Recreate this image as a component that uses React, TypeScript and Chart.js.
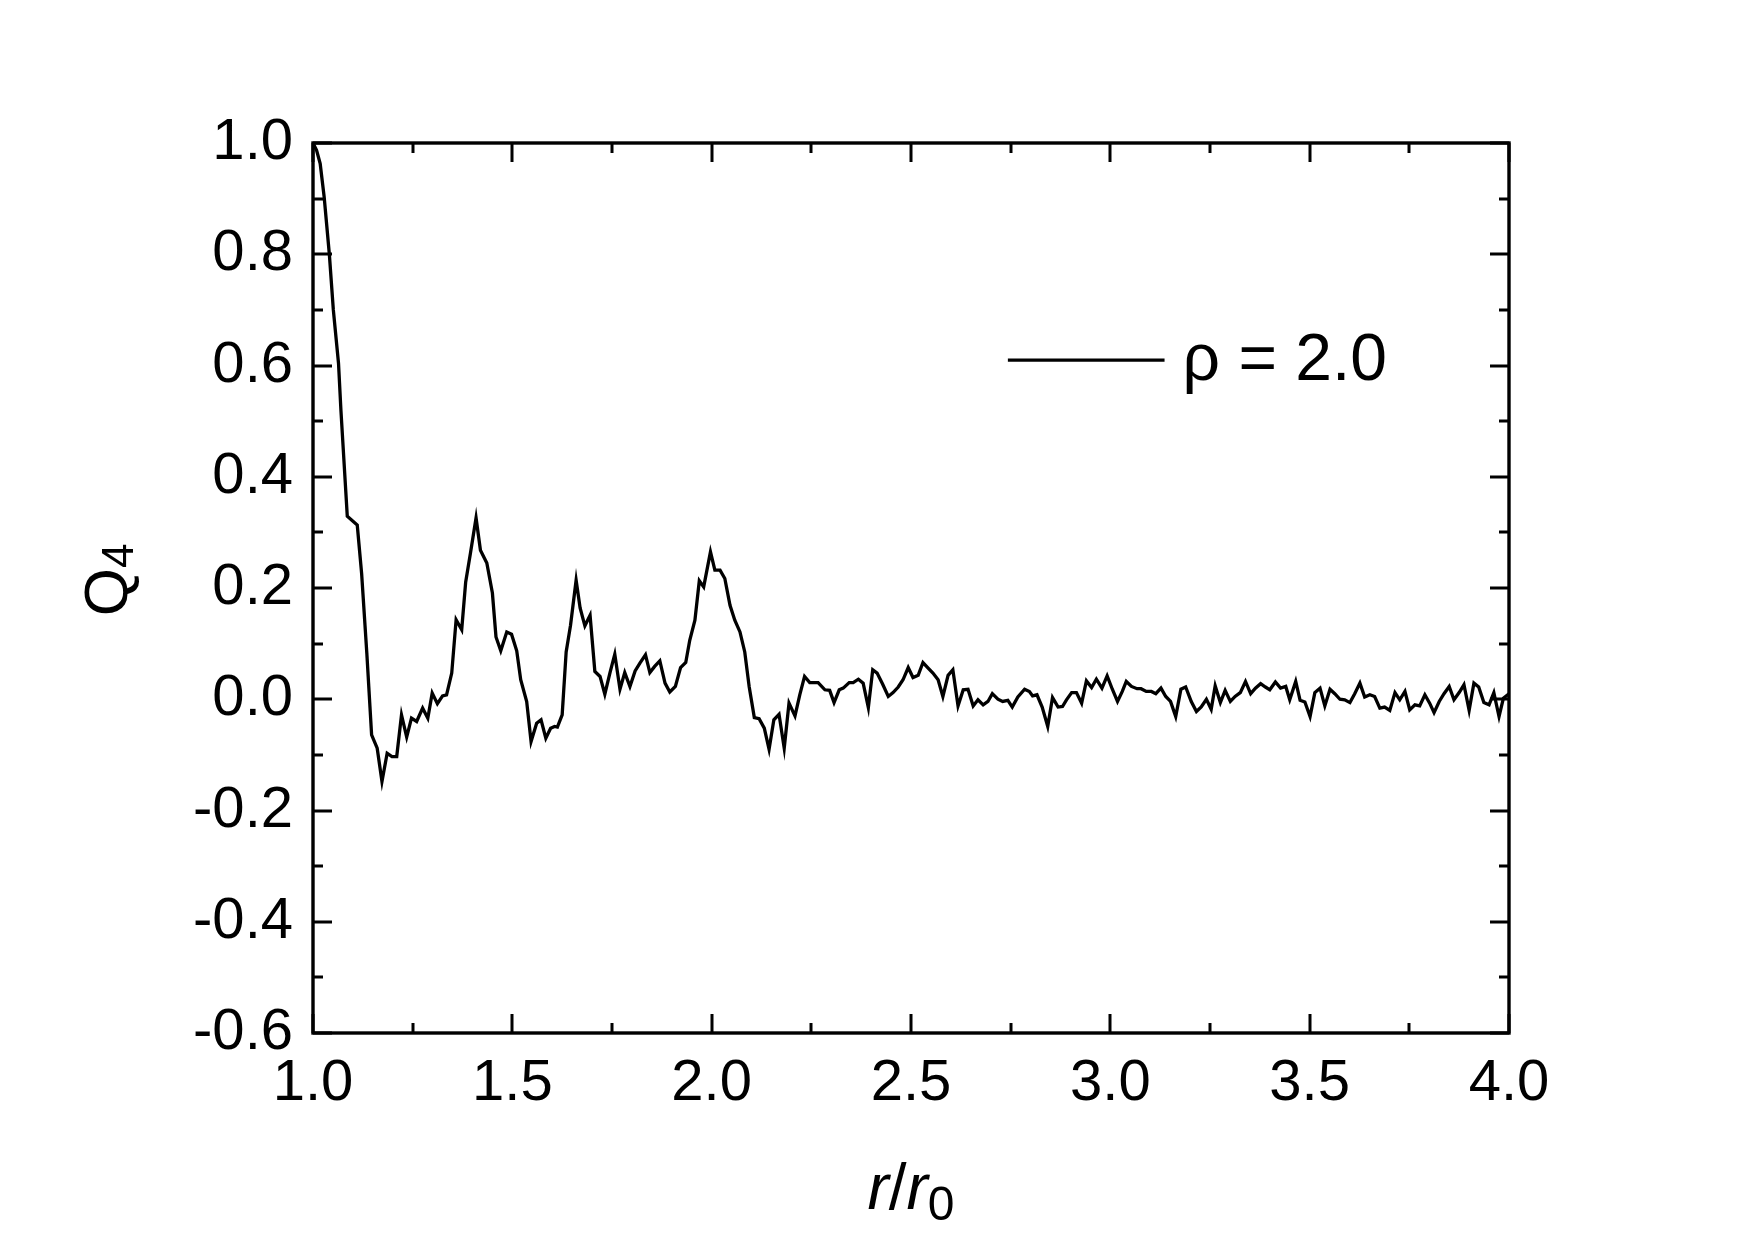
import React, { useEffect, useRef } from "react";
import { Chart, registerables } from "chart.js";

Chart.register(...registerables);

// r / r0 positions of the curve vertices
const rValues = [
  1.0, 1.009, 1.018, 1.028, 1.041, 1.051, 1.064, 1.07, 1.086, 1.111, 1.122, 1.135, 1.147, 1.161, 1.173, 1.186,
  1.198, 1.21, 1.222, 1.235, 1.247, 1.26, 1.275, 1.288, 1.299, 1.312, 1.325, 1.335, 1.348, 1.359, 1.373, 1.383,
  1.395, 1.409, 1.42, 1.436, 1.45, 1.459, 1.471, 1.486, 1.498, 1.511, 1.521, 1.536, 1.547, 1.561, 1.572, 1.584,
  1.596, 1.606, 1.613, 1.625, 1.635, 1.646, 1.66, 1.67, 1.682, 1.695, 1.707, 1.72, 1.732, 1.745, 1.757, 1.77,
  1.782, 1.795, 1.808, 1.82, 1.834, 1.845, 1.857, 1.87, 1.883, 1.895, 1.909, 1.922, 1.935, 1.945, 1.958, 1.969,
  1.98, 1.997, 2.008, 2.021, 2.033, 2.046, 2.058, 2.071, 2.083, 2.094, 2.107, 2.119, 2.132, 2.144, 2.156, 2.169,
  2.182, 2.194, 2.209, 2.221, 2.233, 2.246, 2.267, 2.284, 2.296, 2.307, 2.32, 2.33, 2.345, 2.355, 2.368, 2.38,
  2.393, 2.404, 2.415, 2.429, 2.443, 2.455, 2.468, 2.48, 2.493, 2.505, 2.518, 2.53, 2.543, 2.555, 2.568, 2.58,
  2.593, 2.605, 2.618, 2.631, 2.643, 2.656, 2.668, 2.681, 2.693, 2.704, 2.718, 2.73, 2.743, 2.754, 2.768, 2.785,
  2.797, 2.805, 2.816, 2.829, 2.843, 2.855, 2.869, 2.88, 2.89, 2.903, 2.915, 2.928, 2.94, 2.953, 2.965, 2.979,
  2.992, 3.005, 3.018, 3.03, 3.04, 3.053, 3.067, 3.077, 3.09, 3.103, 3.114, 3.127, 3.139, 3.151, 3.164, 3.177,
  3.189, 3.203, 3.216, 3.228, 3.241, 3.253, 3.263, 3.276, 3.288, 3.301, 3.313, 3.326, 3.339, 3.352, 3.364, 3.377,
  3.389, 3.4, 3.414, 3.427, 3.44, 3.45, 3.465, 3.476, 3.488, 3.501, 3.513, 3.526, 3.538, 3.551, 3.563, 3.576,
  3.588, 3.601, 3.613, 3.626, 3.638, 3.651, 3.663, 3.676, 3.688, 3.701, 3.714, 3.726, 3.739, 3.751, 3.764, 3.776,
  3.789, 3.801, 3.812, 3.825, 3.837, 3.85, 3.862, 3.875, 3.887, 3.9, 3.912, 3.924, 3.937, 3.95, 3.962, 3.975,
  3.986, 4.0,
];

// Q4 values at those positions
const q4Values = [
  1.0, 0.987, 0.963, 0.903, 0.8, 0.7, 0.604, 0.52, 0.329, 0.313, 0.226, 0.083, -0.064, -0.088, -0.148, -0.097,
  -0.103, -0.103, -0.028, -0.068, -0.034, -0.04, -0.016, -0.034, 0.011, -0.008, 0.006, 0.008, 0.047, 0.143, 0.125, 0.211,
  0.263, 0.326, 0.268, 0.245, 0.191, 0.112, 0.087, 0.121, 0.117, 0.087, 0.035, -0.004, -0.076, -0.043, -0.037, -0.07,
  -0.052, -0.049, -0.05, -0.028, 0.085, 0.133, 0.214, 0.164, 0.132, 0.151, 0.05, 0.041, 0.009, 0.048, 0.081, 0.018,
  0.048, 0.023, 0.051, 0.065, 0.08, 0.048, 0.059, 0.069, 0.029, 0.013, 0.023, 0.057, 0.066, 0.106, 0.142, 0.213,
  0.202, 0.265, 0.232, 0.232, 0.217, 0.169, 0.142, 0.121, 0.085, 0.023, -0.033, -0.035, -0.052, -0.09, -0.037, -0.027,
  -0.088, -0.007, -0.03, 0.008, 0.041, 0.03, 0.03, 0.017, 0.016, -0.006, 0.017, 0.02, 0.03, 0.03, 0.036, 0.029,
  -0.015, 0.053, 0.047, 0.027, 0.005, 0.012, 0.022, 0.035, 0.057, 0.039, 0.043, 0.066, 0.056, 0.047, 0.035, 0.005,
  0.043, 0.053, -0.012, 0.017, 0.018, -0.012, -0.001, -0.01, -0.004, 0.01, 0.0, -0.004, -0.002, -0.014, 0.004, 0.018,
  0.014, 0.006, 0.008, -0.014, -0.049, 0.003, -0.014, -0.013, -0.001, 0.012, 0.012, -0.007, 0.033, 0.021, 0.036, 0.02,
  0.042, 0.018, -0.004, 0.014, 0.032, 0.023, 0.019, 0.019, 0.014, 0.014, 0.01, 0.02, 0.005, -0.004, -0.031, 0.018,
  0.022, -0.004, -0.022, -0.014, 0.0, -0.018, 0.024, -0.006, 0.016, -0.004, 0.005, 0.012, 0.032, 0.01, 0.02, 0.028,
  0.022, 0.017, 0.031, 0.02, 0.023, -0.001, 0.032, -0.002, -0.005, -0.031, 0.012, 0.02, -0.012, 0.018, 0.01, 0.0,
  -0.001, -0.006, 0.01, 0.029, 0.004, 0.008, 0.005, -0.016, -0.014, -0.02, 0.012, -0.001, 0.014, -0.019, -0.01, -0.012,
  0.008, -0.007, -0.024, -0.004, 0.01, 0.023, -0.001, 0.012, 0.026, -0.02, 0.029, 0.022, -0.006, -0.01, 0.012, -0.031,
  0.002, 0.01,
];

const seriesLabel = "ρ = 2.0";

const xMajorTicks = [1.0, 1.5, 2.0, 2.5, 3.0, 3.5, 4.0];
const xMinorTicks = [1.25, 1.75, 2.25, 2.75, 3.25, 3.75];
const yMajorTicks = [-0.6, -0.4, -0.2, 0.0, 0.2, 0.4, 0.6, 0.8, 1.0];
const yMinorTicks = [-0.5, -0.3, -0.1, 0.1, 0.3, 0.5, 0.7, 0.9];

const FONT = "'Liberation Sans', Arial, sans-serif";

const fmt = (v: number) => (Math.abs(v) < 1e-9 ? "0.0" : v.toFixed(1));

const framePlugin = {
  id: "frameAndTitles",
  afterDraw(chart: any) {
    const ctx: CanvasRenderingContext2D = chart.ctx;
    const { left, right, top, bottom } = chart.chartArea;
    const xs = chart.scales.x;
    const ys = chart.scales.y;
    ctx.save();
    ctx.strokeStyle = "#000";
    ctx.lineWidth = 3.4;
    ctx.lineCap = "butt";
    // frame
    ctx.strokeRect(left, top, right - left, bottom - top);
    const majorLen = 19;
    const minorLen = 10;
    ctx.lineWidth = 3;
    ctx.beginPath();
    const xTick = (v: number, len: number) => {
      const px = Math.round(xs.getPixelForValue(v));
      ctx.moveTo(px, bottom);
      ctx.lineTo(px, bottom - len);
      ctx.moveTo(px, top);
      ctx.lineTo(px, top + len);
    };
    const yTick = (v: number, len: number) => {
      const py = Math.round(ys.getPixelForValue(v));
      ctx.moveTo(left, py);
      ctx.lineTo(left + len, py);
      ctx.moveTo(right, py);
      ctx.lineTo(right - len, py);
    };
    xMajorTicks.forEach((v) => xTick(v, majorLen));
    xMinorTicks.forEach((v) => xTick(v, minorLen));
    yMajorTicks.forEach((v) => yTick(v, majorLen));
    yMinorTicks.forEach((v) => yTick(v, minorLen));
    ctx.stroke();

    // legend
    const w = right - left;
    const h = bottom - top;
    const lx0 = left + 0.581 * w;
    const lx1 = left + 0.712 * w;
    const ly = top + 0.244 * h;
    ctx.lineWidth = 3.3;
    ctx.beginPath();
    ctx.moveTo(lx0, ly);
    ctx.lineTo(lx1, ly);
    ctx.stroke();
    ctx.fillStyle = "#000";
    ctx.font = `66px ${FONT}`;
    ctx.textAlign = "left";
    ctx.textBaseline = "middle";
    ctx.fillText(chart.data.datasets[0].label, lx1 + 18, ly + 2);

    // x title: r/r0
    ctx.textBaseline = "alphabetic";
    const parts = [
      { t: "r", f: `italic 64px ${FONT}`, dy: 0 },
      { t: "/", f: `64px ${FONT}`, dy: 0 },
      { t: "r", f: `italic 64px ${FONT}`, dy: 0 },
      { t: "0", f: `48px ${FONT}`, dy: 11 },
    ];
    let total = 0;
    parts.forEach((p) => {
      ctx.font = p.f;
      total += ctx.measureText(p.t).width;
    });
    let cx = (left + right) / 2 - total / 2;
    const baseY = bottom + 176;
    parts.forEach((p) => {
      ctx.font = p.f;
      ctx.fillText(p.t, cx, baseY + p.dy);
      cx += ctx.measureText(p.t).width;
    });

    // y title: Q4 rotated
    const yparts = [
      { t: "Q", f: `62px ${FONT}`, dy: 0 },
      { t: "4", f: `44px ${FONT}`, dy: 6 },
    ];
    let ytotal = 0;
    yparts.forEach((p) => {
      ctx.font = p.f;
      ytotal += ctx.measureText(p.t).width;
    });
    ctx.translate(left - 186, (top + bottom) / 2 - 8);
    ctx.rotate(-Math.PI / 2);
    let cy = -ytotal / 2;
    yparts.forEach((p) => {
      ctx.font = p.f;
      ctx.fillText(p.t, cy, p.dy);
      cy += ctx.measureText(p.t).width;
    });
    ctx.restore();
  },
};

export default function App() {
  const ref = useRef<HTMLCanvasElement>(null);
  useEffect(() => {
    document.body.style.margin = "0";
    const canvas = ref.current;
    if (!canvas) return;
    const chart = new Chart(canvas, {
      type: "line",
      data: {
        datasets: [
          {
            label: seriesLabel,
            data: rValues.map((x, i) => ({ x, y: q4Values[i] })),
            borderColor: "#000",
            borderWidth: 3.3,
            pointRadius: 0,
            tension: 0,
            fill: false,
          },
        ],
      },
      options: {
        animation: false,
        responsive: false,
        devicePixelRatio: 1,
        layout: { padding: { left: 0, right: 245, top: 143, bottom: 0 } },
        plugins: { legend: { display: false }, tooltip: { enabled: false } },
        scales: {
          x: {
            type: "linear",
            min: 1,
            max: 4,
            afterFit: (s: any) => {
              s.height = 206;
            },
            afterBuildTicks: (s: any) => {
              s.ticks = xMajorTicks.map((v) => ({ value: v }));
            },
            grid: { display: false, drawTicks: false },
            border: { display: false },
            ticks: {
              padding: 16,
              color: "#000",
              maxRotation: 0,
              autoSkip: false,
              font: { family: FONT, size: 58 },
              callback: (v: any) => fmt(Number(v)),
            },
          },
          y: {
            type: "linear",
            min: -0.6,
            max: 1.0,
            afterFit: (s: any) => {
              s.width = 313;
            },
            afterBuildTicks: (s: any) => {
              s.ticks = yMajorTicks.map((v) => ({ value: v }));
            },
            grid: { display: false, drawTicks: false },
            border: { display: false },
            ticks: {
              padding: 20,
              color: "#000",
              autoSkip: false,
              font: { family: FONT, size: 58 },
              callback: (v: any) => fmt(Number(v)),
            },
          },
        },
      },
      plugins: [framePlugin],
    });
    return () => chart.destroy();
  }, []);
  return <canvas ref={ref} width={1754} height={1239} style={{ display: "block" }} />;
}
